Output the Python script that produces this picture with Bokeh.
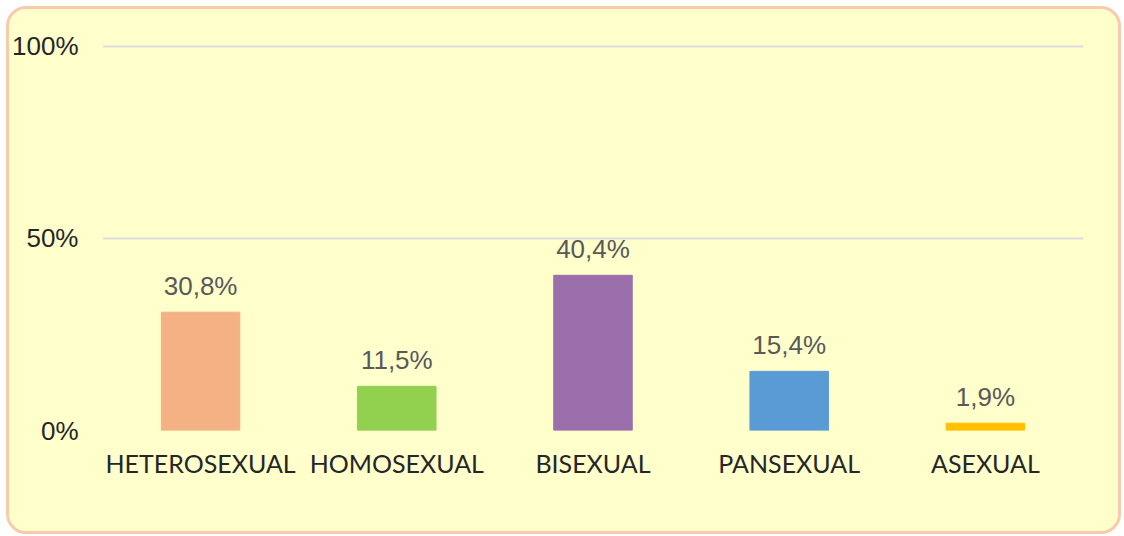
from bokeh.plotting import figure
from bokeh.models import ColumnDataSource, FactorRange, Range1d, FixedTicker, PrintfTickFormatter
from bokeh.core.properties import value
from bokeh.embed import file_html
from bokeh.resources import INLINE

categories = ["HETEROSEXUAL", "HOMOSEXUAL", "BISEXUAL", "PANSEXUAL", "ASEXUAL"]
percent = [30.8, 11.5, 40.4, 15.4, 1.9]
colors = ["#F4B183", "#92D050", "#9B6FAC", "#5B9BD5", "#FFC000"]
y_ticks = [0, 50, 100]

labels = [f"{v:.1f}".replace(".", ",") + "%" for v in percent]
src = ColumnDataSource(dict(cat=categories, val=percent, color=colors, label=labels))

p = figure(
    x_range=FactorRange(factors=categories),
    y_range=Range1d(0, 101),
    width=1115, height=528,
    output_backend="svg", toolbar_location=None,
    min_border_left=85, min_border_top=33, min_border_right=41, min_border_bottom=107,
    styles={"border": "3px solid #F8CBAD", "border-radius": "20px",
            "background-color": "#FFFFCC", "overflow": "hidden",
            "margin-left": "6px", "margin-top": "6px"},
)
p.background_fill_alpha = 0
p.border_fill_alpha = 0
p.outline_line_color = None

p.vbar(x="cat", top="val", width=0.4, color="color", source=src)
p.text(x="cat", y="val", text="label", source=src, y_offset=-26,
       text_align="center", text_baseline="alphabetic",
       text_font=value("Liberation Sans"), text_font_size="26px", text_color="#595959")

p.xgrid.grid_line_color = None
p.ygrid.ticker = FixedTicker(ticks=y_ticks)
p.ygrid.grid_line_color = "#DEDEDE"
p.ygrid.grid_line_width = 2

p.yaxis.ticker = FixedTicker(ticks=y_ticks)
p.yaxis.formatter = PrintfTickFormatter(format="%d%%")
p.yaxis.axis_line_color = None
p.yaxis.major_tick_line_color = None
p.yaxis.minor_tick_line_color = None
p.yaxis.major_label_standoff = 18
p.yaxis.major_label_text_font = "Liberation Sans"
p.yaxis.major_label_text_font_size = "26px"
p.yaxis.major_label_text_color = "#262626"

p.xaxis.axis_line_color = None
p.xaxis.major_tick_line_color = None
p.xaxis.minor_tick_line_color = None
p.xaxis.major_label_standoff = 11
p.xaxis.major_label_text_font = "Lato"
p.xaxis.major_label_text_font_size = "25px"
p.xaxis.major_label_text_color = "#262626"

open("out.html", "w").write(file_html(p, INLINE))
